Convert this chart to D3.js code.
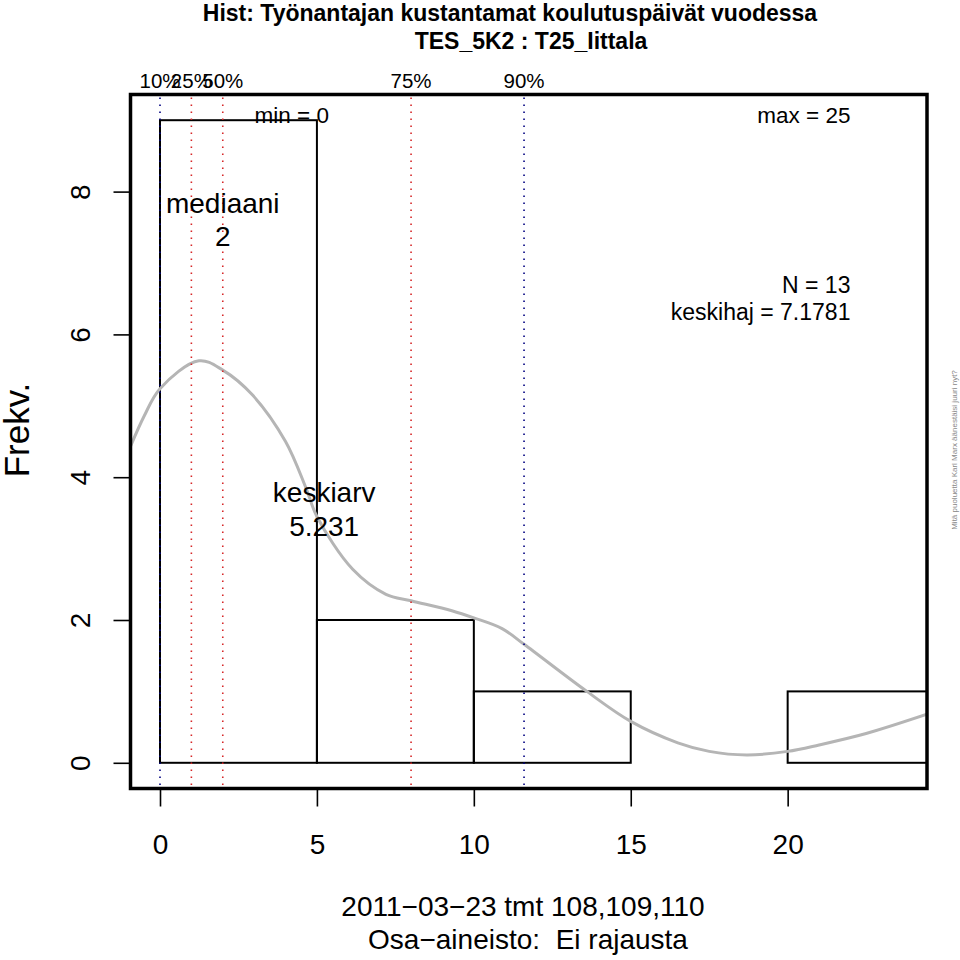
<!DOCTYPE html>
<html>
<head>
<meta charset="utf-8">
<script src="https://cdn.jsdelivr.net/npm/d3@7"></script>
<style>
  html, body { margin: 0; padding: 0; background: #fff; }
  svg { display: block; }
  text { font-family: "Liberation Sans", Arial, Helvetica, sans-serif; white-space: pre; }
</style>
</head>
<body>
<div id="chart"></div>
<script>
// ---- data ----
const titleLines = ["Hist: Työnantajan kustantamat koulutuspäivät vuodessa", "TES_5K2 : T25_Iittala"];
const binStarts = [0, 5, 10, 15, 20];
const binEnds   = [5, 10, 15, 20, 25];
const binCounts = [9, 2, 1, 0, 1];
const quantileLabels = ["10%", "25%", "50%", "75%", "90%"];
const quantileValues = [0, 1, 2, 8, 11.6];
const quantileColors = ["navy", "#d62728", "#d62728", "#d62728", "navy"];
const densityX = [-0.94, -0.5, 0, 1.24, 2.0, 2.95, 4.0, 4.65, 5.0, 6.14, 7.2, 8.0, 9.3, 10.0, 10.9, 11.6, 13.6, 15.0, 16.5, 17.5, 18.7, 20.0, 21.0, 22.5, 24.44];
const densityY = [4.43, 4.86, 5.24, 5.63, 5.5, 5.15, 4.5, 3.85, 3.45, 2.71, 2.36, 2.27, 2.13, 2.03, 1.88, 1.66, 1.0, 0.58, 0.28, 0.16, 0.11, 0.16, 0.25, 0.41, 0.68];
const xTicks = [0, 5, 10, 15, 20];
const yTicks = [0, 2, 4, 6, 8];
const xDomain = [-0.94, 24.44];
const yDomain = [-0.36, 9.36];
const statMin = 0, statMax = 25, statN = 13, statSd = "7.1781";
const statMedian = 2, statMean = 5.231;
const yLabel = "Frekv.";
const footLines = ["2011\u221203\u221223 tmt 108,109,110", "Osa\u2212aineisto:  Ei rajausta"];
const sideNote = "Mitä puoluetta Karl Marx äänestäisi juuri nyt?";

// ---- layout ----
const W = 960, H = 960;
const L = 130.5, R = 927, T = 94.5, B = 788.5;

const svg = d3.select("#chart").append("svg").attr("width", W).attr("height", H);

const x = d3.scaleLinear().domain(xDomain).range([L, R]);
const y = d3.scaleLinear().domain(yDomain).range([B, T]);

svg.append("clipPath").attr("id", "clip")
  .append("rect").attr("x", L).attr("y", T).attr("width", R - L).attr("height", B - T);

const plot = svg.append("g").attr("clip-path", "url(#clip)");

// histogram bars
const bins = binStarts.map((s, i) => ({ x0: s, x1: binEnds[i], n: binCounts[i] }));
plot.selectAll("rect.bar").data(bins).join("rect")
  .attr("class", "bar")
  .attr("x", d => x(d.x0))
  .attr("y", d => y(d.n))
  .attr("width", d => x(d.x1) - x(d.x0))
  .attr("height", d => y(0) - y(d.n))
  .attr("fill", "none")
  .attr("stroke", "#000")
  .attr("stroke-width", 2);

// density curve
const dens = densityX.map((v, i) => [v, densityY[i]]);
plot.append("path").datum(dens)
  .attr("d", d3.line().x(d => x(d[0])).y(d => y(d[1])).curve(d3.curveCatmullRom.alpha(0.5)))
  .attr("fill", "none")
  .attr("stroke", "#b5b5b5")
  .attr("stroke-width", 3);

// quantile lines
plot.selectAll("line.q").data(quantileValues).join("line")
  .attr("class", "q")
  .attr("x1", d => x(d)).attr("x2", d => x(d))
  .attr("y1", T + 3).attr("y2", B - 3)
  .attr("stroke", (d, i) => quantileColors[i])
  .attr("stroke-width", 1.6)
  .attr("stroke-dasharray", "1.5,5.5");

// quantile labels
svg.selectAll("text.ql").data(quantileValues).join("text")
  .attr("class", "ql")
  .attr("x", d => x(d)).attr("y", 88)
  .attr("text-anchor", "middle")
  .attr("font-size", 20.5)
  .text((d, i) => quantileLabels[i]);

// annotations
const ann = svg.append("g");
ann.append("text").attr("x", x(4.2)).attr("y", 123).attr("text-anchor", "middle")
  .attr("font-size", 22.5).text("min = " + statMin);
ann.append("text").attr("x", x(22.0)).attr("y", 123).attr("text-anchor", "end")
  .attr("font-size", 22.5).text("max = " + statMax);
ann.append("text").attr("x", x(statMedian)).attr("y", 213).attr("text-anchor", "middle")
  .attr("font-size", 28).text("mediaani");
ann.append("text").attr("x", x(statMedian)).attr("y", 246).attr("text-anchor", "middle")
  .attr("font-size", 28).text(statMedian);
ann.append("text").attr("x", x(22.0)).attr("y", 293).attr("text-anchor", "end")
  .attr("font-size", 23).text("N = " + statN);
ann.append("text").attr("x", x(22.0)).attr("y", 320).attr("text-anchor", "end")
  .attr("font-size", 23).text("keskihaj = " + statSd);
ann.append("text").attr("x", x(statMean)).attr("y", 502).attr("text-anchor", "middle")
  .attr("font-size", 28).text("keskiarv");
ann.append("text").attr("x", x(statMean)).attr("y", 536).attr("text-anchor", "middle")
  .attr("font-size", 28).text(statMean);

// box
svg.append("rect").attr("x", L).attr("y", T).attr("width", R - L).attr("height", B - T)
  .attr("fill", "none").attr("stroke", "#000").attr("stroke-width", 3.5);

// x axis
const xAxis = svg.append("g").attr("transform", `translate(0,${B})`)
  .call(d3.axisBottom(x).tickValues(xTicks).tickSize(18).tickPadding(0).tickFormat(d3.format("d")));
xAxis.select(".domain").remove();
xAxis.selectAll(".tick line").attr("stroke", "#000").attr("stroke-width", 1.6);
xAxis.selectAll(".tick text").attr("font-size", 28).attr("fill", "#000")
  .attr("y", 65).attr("dy", 0).attr("font-family", "Liberation Sans, Arial, sans-serif");

// y axis
const yAxis = svg.append("g").attr("transform", `translate(${L},0)`)
  .call(d3.axisLeft(y).tickValues(yTicks).tickSize(17).tickFormat(d3.format("d")));
yAxis.select(".domain").remove();
yAxis.selectAll(".tick line").attr("stroke", "#000").attr("stroke-width", 1.6);
yAxis.selectAll(".tick text")
  .attr("font-size", 28).attr("fill", "#000").attr("font-family", "Liberation Sans, Arial, sans-serif")
  .attr("text-anchor", "middle")
  .attr("x", 0).attr("y", -40.5).attr("dy", 0)
  .attr("transform", "rotate(-90)");

// y label
svg.append("text").attr("transform", "translate(29,430) rotate(-90)")
  .attr("text-anchor", "middle").attr("font-size", 35).text(yLabel);

// title
svg.append("text").attr("x", 510).attr("y", 21).attr("text-anchor", "middle")
  .attr("font-size", 23).attr("font-weight", "bold").text(titleLines[0]);
svg.append("text").attr("x", 531).attr("y", 49).attr("text-anchor", "middle")
  .attr("font-size", 23).attr("font-weight", "bold").text(titleLines[1]);

// footer
svg.append("text").attr("x", 523).attr("y", 916).attr("text-anchor", "middle")
  .attr("font-size", 28).text(footLines[0]);
svg.append("text").attr("x", 528).attr("y", 949).attr("text-anchor", "middle")
  .attr("font-size", 28).text(footLines[1]);

// side note
svg.append("text").attr("transform", "translate(957,450) rotate(-90)")
  .attr("text-anchor", "middle").attr("font-size", 8).attr("fill", "#888").text(sideNote);
</script>
</body>
</html>
